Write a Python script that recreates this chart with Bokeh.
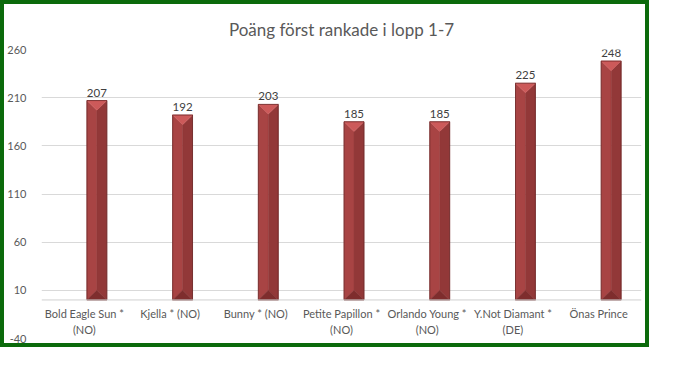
import numpy as np
from bokeh.plotting import figure
from bokeh.models import FixedTicker, Span, Range1d
from bokeh.core.properties import value
from bokeh.embed import file_html
from bokeh.resources import INLINE

# ---- data ----
title_text = "Poäng först rankade i lopp 1-7"
categories = ["Bold Eagle Sun *\n(NO)", "Kjella * (NO)", "Bunny * (NO)",
              "Petite Papillon *\n(NO)", "Orlando Young *\n(NO)",
              "Y.Not Diamant *\n(DE)", "Önas Prince"]
values = [207, 192, 203, 185, 185, 225, 248]
y_ticks = [-40, 10, 60, 110, 160, 210, 260]

# ---- layout constants ----
W, H = 649, 347     # canvas; a 4px CSS border is added outside -> 657 x 355
FONT = "Lato"
GREY = "#595959"
bar_off = 0.146     # 3D-style shift of the column relative to the category centre
bar_w = 0.232
bevel = 10.0        # depth of top/bottom bevel in data units

n = len(categories)
xc = np.arange(n) + bar_off
xl = xc - bar_w / 2
xr = xc + bar_w / 2
v = np.array(values, dtype=float)

p = figure(width=W, height=H, x_range=Range1d(-0.5, n - 0.5),
           y_range=Range1d(y_ticks[0], y_ticks[-1]),
           output_backend="svg", toolbar_location=None,
           min_border_left=35, min_border_right=12, min_border_bottom=13,
           min_border_top=45)
p.styles = {"border": "4px solid #0b6a0b"}
p.outline_line_color = None
p.background_fill_color = "white"
p.border_fill_color = "white"

# title
p.title.text = title_text
p.title.align = "center"
p.title.vertical_align = "top"
p.title.text_font = FONT
p.title.text_font_size = "17px"
p.title.text_font_style = "normal"
p.title.text_color = GREY
p.title.standoff = 16

# axes
p.xaxis.visible = False
p.yaxis.ticker = FixedTicker(ticks=y_ticks)
p.yaxis.major_label_overrides = {t: str(t) for t in y_ticks}
p.yaxis.axis_line_color = None
p.yaxis.major_tick_line_color = None
p.yaxis.minor_tick_line_color = None
p.yaxis.major_label_text_font = FONT
p.yaxis.major_label_text_font_size = "11px"
p.yaxis.major_label_text_color = GREY
p.yaxis.major_label_standoff = 9
p.xgrid.visible = False
p.ygrid.ticker = FixedTicker(ticks=y_ticks)
p.ygrid.grid_line_color = "#d9d9d9"
p.ygrid.grid_line_width = 1

p.add_layout(Span(location=0, dimension="width", line_color="#d0d0d0", line_width=1))

# ---- beveled columns ----
def facets():
    top, left, right, bottom = [], [], [], []
    for a, c, b, t in zip(xl, xc, xr, v):
        top.append(([a, b, c], [t, t, t - bevel]))
        left.append(([a, c, c, a], [t, t - bevel, bevel, 0]))
        right.append(([b, c, c, b], [t, t - bevel, bevel, 0]))
        bottom.append(([a, b, c], [0, 0, bevel]))
    return top, left, right, bottom

top, left, right, bottom = facets()
for faces, col in [(left, "#a84444"), (right, "#923838"),
                   (bottom, "#7e2d2d"), (top, "#cc5a5a")]:
    p.patches(xs=[f[0] for f in faces], ys=[f[1] for f in faces],
              fill_color=col, line_color=col, line_width=0.5)

p.vbar(x=xc, top=v, bottom=0, width=bar_w, fill_color=None,
       line_color="#6a2424", line_width=0.8)

# value labels
p.text(x=xc, y=v, text=[str(int(t)) for t in values], text_align="center",
       text_baseline="bottom", y_offset=-4, text_font=value(FONT),
       text_font_size="11.5px", text_color="#404040")

# category labels inside the plot, below the zero line
p.text(x=np.arange(n), y=[0] * n, text=categories, text_align="center",
       text_baseline="top", y_offset=7, text_font=value(FONT),
       text_font_size="11px", text_color=GREY, text_line_height=1.2)

open("out.html", "w").write(file_html(p, INLINE))
